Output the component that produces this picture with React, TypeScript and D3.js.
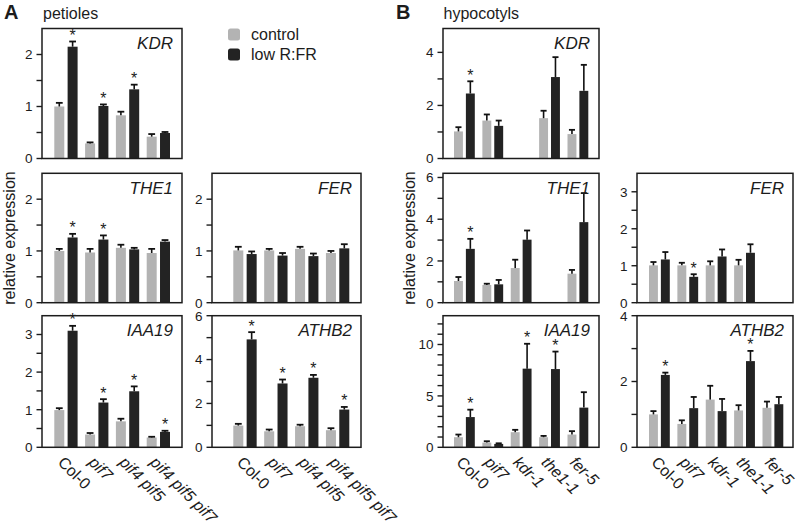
import React from "react";
import * as d3 from "d3";

// ---------- DATA ----------
const groupsA = ["Col-0", "pif7", "pif4 pif5", "pif4 pif5 pif7"];
const groupsB = ["Col-0", "pif7", "kdr-1", "the1-1", "fer-5"];
const series = ["control", "low R:FR"];

// Panel A (petioles)
const kdrA_ctrl = [1.0, 0.29, 0.83, 0.42];
const kdrA_ctrlErr = [0.07, 0.02, 0.07, 0.05];
const kdrA_low = [2.15, 1.01, 1.33, 0.49];
const kdrA_lowErr = [0.1, 0.03, 0.09, 0.02];
const kdrA_star = [1, 1, 1, 0];

const the1A_ctrl = [1.0, 0.97, 1.06, 0.96];
const the1A_ctrlErr = [0.04, 0.07, 0.06, 0.08];
const the1A_low = [1.26, 1.22, 1.03, 1.18];
const the1A_lowErr = [0.07, 0.08, 0.03, 0.03];
const the1A_star = [1, 1, 0, 0];

const ferA_ctrl = [1.01, 1.01, 1.04, 0.96];
const ferA_ctrlErr = [0.07, 0.03, 0.04, 0.04];
const ferA_low = [0.94, 0.91, 0.9, 1.05];
const ferA_lowErr = [0.05, 0.05, 0.05, 0.08];
const ferA_star = [0, 0, 0, 0];

const iaaA_ctrl = [0.99, 0.34, 0.69, 0.26];
const iaaA_ctrlErr = [0.05, 0.04, 0.07, 0.02];
const iaaA_low = [3.1, 1.19, 1.49, 0.41];
const iaaA_lowErr = [0.13, 0.09, 0.13, 0.03];
const iaaA_star = [1, 1, 1, 1];

const athA_ctrl = [0.99, 0.73, 0.96, 0.78];
const athA_ctrlErr = [0.08, 0.08, 0.07, 0.09];
const athA_low = [4.92, 2.91, 3.17, 1.72];
const athA_lowErr = [0.33, 0.18, 0.13, 0.12];
const athA_star = [1, 1, 1, 1];

// Panel B (hypocotyls)
const kdrB_ctrl = [1.02, 1.43, null, 1.52, 0.92];
const kdrB_ctrlErr = [0.16, 0.23, null, 0.28, 0.16];
const kdrB_low = [2.45, 1.23, null, 3.07, 2.55];
const kdrB_lowErr = [0.46, 0.2, null, 0.75, 0.98];
const kdrB_star = [1, 0, 0, 0, 0];

const the1B_ctrl = [1.04, 0.85, 1.66, null, 1.39];
const the1B_ctrlErr = [0.19, 0.06, 0.4, null, 0.18];
const the1B_low = [2.58, 0.88, 3.02, null, 3.86];
const the1B_lowErr = [0.48, 0.21, 0.44, null, 1.39];
const the1B_star = [1, 0, 0, 0, 0];

const ferB_ctrl = [1.01, 1.01, 1.01, 1.01, null];
const ferB_ctrlErr = [0.09, 0.07, 0.11, 0.15, null];
const ferB_low = [1.17, 0.7, 1.25, 1.35, null];
const ferB_lowErr = [0.2, 0.07, 0.19, 0.23, null];
const ferB_star = [0, 1, 0, 0, 0];

const iaaB_ctrl = [0.98, 0.46, 1.47, 0.98, 1.24];
const iaaB_ctrlErr = [0.26, 0.13, 0.23, 0.13, 0.33];
const iaaB_low = [2.94, 0.33, 7.65, 7.61, 3.86];
const iaaB_lowErr = [0.72, 0.06, 2.42, 1.7, 1.5];
const iaaB_star = [1, 0, 1, 1, 0];

const athB_ctrl = [1.0, 0.71, 1.45, 1.12, 1.2];
const athB_ctrlErr = [0.1, 0.11, 0.42, 0.16, 0.19];
const athB_low = [2.2, 1.19, 1.1, 2.62, 1.31];
const athB_lowErr = [0.07, 0.34, 0.37, 0.31, 0.22];
const athB_star = [1, 0, 0, 1, 0];

// Axis ticks
const ticksA_25 = [0, 1, 2];
const minorA_25 = [0.5, 1.5];
const ticksA_iaa = [0, 1, 2, 3];
const minorA_iaa = [0.5, 1.5, 2.5];
const ticksA_ath = [0, 2, 4, 6];
const minorA_ath = [1, 3, 5];
const ticksB_kdr = [0, 2, 4];
const minorB_kdr = [1, 3];
const ticksB_the = [0, 2, 4, 6];
const minorB_the = [1, 3, 5];
const ticksB_fer = [0, 1, 2, 3];
const minorB_fer = [0.5, 1.5, 2.5];
const ticksB_iaa = [0, 5, 10];
const minorB_iaa = [1, 2, 3, 4, 6, 7, 8, 9, 11, 12];
const ticksB_ath = [0, 2, 4];
const minorB_ath = [1, 3];

// ---------- LAYOUT ----------
const W = 798;
const H = 525;
const FONT = "'Liberation Sans', Arial, Helvetica, sans-serif";
const C_CTRL = "#b3b3b3";
const C_LOW = "#232323";
const INK = "#1c1c1c";

const rows = [
  { top: 28.5, bottom: 158.5 },
  { top: 173.3, bottom: 302.7 },
  { top: 315.7, bottom: 447.3 },
];
const cols = {
  AL: { x0: 42, x1: 182, b0: 54.3, b1: 170 },
  AR: { x0: 212, x1: 361, b0: 233.3, b1: 349.3 },
  BL: { x0: 443, x1: 599, b0: 454, b1: 588.3 },
  BR: { x0: 637, x1: 793, b0: 649, b1: 783.3 },
};

type Panel = {
  gene: string;
  groups: string[];
  row: number;
  col: keyof typeof cols;
  max: number;
  ticks: number[];
  minor: number[];
  ctrl: (number | null)[];
  ctrlErr: (number | null)[];
  low: (number | null)[];
  lowErr: (number | null)[];
  star: number[];
  pad: number;
  xlabels?: boolean;
};

const panels: Panel[] = [
  { gene: "KDR", groups: groupsA, row: 0, col: "AL", max: 2.5, ticks: ticksA_25, minor: minorA_25, ctrl: kdrA_ctrl, ctrlErr: kdrA_ctrlErr, low: kdrA_low, lowErr: kdrA_lowErr, star: kdrA_star, pad: 0.2435 },
  { gene: "THE1", groups: groupsA, row: 1, col: "AL", max: 2.5, ticks: ticksA_25, minor: minorA_25, ctrl: the1A_ctrl, ctrlErr: the1A_ctrlErr, low: the1A_low, lowErr: the1A_lowErr, star: the1A_star, pad: 0.2435 },
  { gene: "FER", groups: groupsA, row: 1, col: "AR", max: 2.5, ticks: ticksA_25, minor: minorA_25, ctrl: ferA_ctrl, ctrlErr: ferA_ctrlErr, low: ferA_low, lowErr: ferA_lowErr, star: ferA_star, pad: 0.2435 },
  { gene: "IAA19", groups: groupsA, row: 2, col: "AL", max: 3.5, ticks: ticksA_iaa, minor: minorA_iaa, ctrl: iaaA_ctrl, ctrlErr: iaaA_ctrlErr, low: iaaA_low, lowErr: iaaA_lowErr, star: iaaA_star, pad: 0.2435, xlabels: true },
  { gene: "ATHB2", groups: groupsA, row: 2, col: "AR", max: 6, ticks: ticksA_ath, minor: minorA_ath, ctrl: athA_ctrl, ctrlErr: athA_ctrlErr, low: athA_low, lowErr: athA_lowErr, star: athA_star, pad: 0.2435, xlabels: true },
  { gene: "KDR", groups: groupsB, row: 0, col: "BL", max: 4.9, ticks: ticksB_kdr, minor: minorB_kdr, ctrl: kdrB_ctrl, ctrlErr: kdrB_ctrlErr, low: kdrB_low, lowErr: kdrB_lowErr, star: kdrB_star, pad: 0.267 },
  { gene: "THE1", groups: groupsB, row: 1, col: "BL", max: 6.2, ticks: ticksB_the, minor: minorB_the, ctrl: the1B_ctrl, ctrlErr: the1B_ctrlErr, low: the1B_low, lowErr: the1B_lowErr, star: the1B_star, pad: 0.267 },
  { gene: "FER", groups: groupsB, row: 1, col: "BR", max: 3.5, ticks: ticksB_fer, minor: minorB_fer, ctrl: ferB_ctrl, ctrlErr: ferB_ctrlErr, low: ferB_low, lowErr: ferB_lowErr, star: ferB_star, pad: 0.267 },
  { gene: "IAA19", groups: groupsB, row: 2, col: "BL", max: 12.8, ticks: ticksB_iaa, minor: minorB_iaa, ctrl: iaaB_ctrl, ctrlErr: iaaB_ctrlErr, low: iaaB_low, lowErr: iaaB_lowErr, star: iaaB_star, pad: 0.267, xlabels: true },
  { gene: "ATHB2", groups: groupsB, row: 2, col: "BR", max: 4, ticks: ticksB_ath, minor: minorB_ath, ctrl: athB_ctrl, ctrlErr: athB_ctrlErr, low: athB_low, lowErr: athB_lowErr, star: athB_star, pad: 0.267, xlabels: true },
];

function PanelView({ p }: { p: Panel }) {
  const r = rows[p.row];
  const c = cols[p.col];
  const y = d3.scaleLinear().domain([0, p.max]).range([r.bottom, r.top]);
  const gx = d3.scaleBand<string>().domain(p.groups).range([c.b0, c.b1]).paddingInner(p.pad).paddingOuter(0);
  const ix = d3.scaleBand<string>().domain(series).range([0, gx.bandwidth()]).paddingInner(0.25);
  const bw = ix.bandwidth();
  const capW = bw * 0.68;
  const tickLen = 5.5;

  const bars: React.ReactNode[] = [];
  p.groups.forEach((g, i) => {
    const entries = [
      { s: series[0], v: p.ctrl[i], e: p.ctrlErr[i], fill: C_CTRL, star: 0 },
      { s: series[1], v: p.low[i], e: p.lowErr[i], fill: C_LOW, star: p.star[i] },
    ];
    entries.forEach((en) => {
      if (en.v == null) return;
      const x = (gx(g) as number) + (ix(en.s) as number);
      const top = y(en.v);
      const errTop = y(en.v + (en.e || 0));
      const cx = x + bw / 2;
      bars.push(
        <g key={g + en.s}>
          <rect x={x} y={top} width={bw} height={r.bottom - top} fill={en.fill} />
          <line x1={cx} x2={cx} y1={top} y2={errTop} stroke="#111" strokeWidth={1.6} />
          <line x1={cx - capW / 2} x2={cx + capW / 2} y1={errTop} y2={errTop} stroke="#111" strokeWidth={1.8} />
          {en.star ? (
            <text x={cx} y={errTop - 0.5} textAnchor="middle" fontSize={16} fontFamily={FONT} fill={INK}>
              *
            </text>
          ) : null}
        </g>
      );
    });
  });

  return (
    <g>
      {bars}
      <rect x={c.x0} y={r.top} width={c.x1 - c.x0} height={r.bottom - r.top} fill="none" stroke={INK} strokeWidth={1.5} />
      {p.ticks.map((t) => (
        <g key={"t" + t}>
          <line x1={c.x0 - tickLen} x2={c.x0} y1={y(t)} y2={y(t)} stroke={INK} strokeWidth={1.4} />
          <text x={c.x0 - 9.5} y={y(t)} dy="0.36em" textAnchor="end" fontSize={13.5} fontFamily={FONT} fill={INK}>
            {t}
          </text>
        </g>
      ))}
      {p.minor.map((t) => (
        <line key={"m" + t} x1={c.x0 - tickLen} x2={c.x0} y1={y(t)} y2={y(t)} stroke={INK} strokeWidth={1.4} />
      ))}
      <text x={c.x1 - 9} y={r.top + 20.5} textAnchor="end" fontSize={17} fontStyle="italic" fontFamily={FONT} fill={INK}>
        {p.gene}
      </text>
      {p.xlabels
        ? p.groups.map((g) => {
            const cx = (gx(g) as number) + gx.bandwidth() / 2;
            const ax = cx - 9;
            const ay = r.bottom + 16;
            return (
              <text
                key={"x" + g}
                x={ax}
                y={ay}
                transform={`rotate(45 ${ax} ${ay})`}
                fontSize={16}
                fontStyle={g === "Col-0" ? "normal" : "italic"}
                fontFamily={FONT}
                fill={INK}
              >
                {g}
              </text>
            );
          })
        : null}
    </g>
  );
}

export default function App() {
  React.useEffect(() => {
    document.body.style.margin = "0";
  }, []);
  return (
    <svg
      width={W}
      height={H}
      viewBox={`0 0 ${W} ${H}`}
      style={{ position: "absolute", left: 0, top: 0, background: "#fff", display: "block" }}
    >
      <rect x={0} y={0} width={W} height={H} fill="#fff" />
      <text x={4} y={18.5} fontSize={20} fontWeight="bold" fontFamily={FONT} fill={INK}>
        A
      </text>
      <text x={43} y={19} fontSize={16} fontFamily={FONT} fill={INK}>
        petioles
      </text>
      <text x={396} y={18.5} fontSize={20} fontWeight="bold" fontFamily={FONT} fill={INK}>
        B
      </text>
      <text x={443.5} y={19} fontSize={16} fontFamily={FONT} fill={INK}>
        hypocotyls
      </text>
      {/* legend */}
      {series.map((s, i) => (
        <g key={s}>
          <rect x={228} y={28.5 + i * 20} width={12} height={12} rx={2.5} fill={i === 0 ? C_CTRL : C_LOW} />
          <text x={251} y={40 + i * 20} fontSize={16} fontFamily={FONT} fill={INK}>
            {s}
          </text>
        </g>
      ))}
      {/* y titles */}
      <text x={0} y={0} transform="translate(14.5,238) rotate(-90)" textAnchor="middle" fontSize={16} fontFamily={FONT} fill={INK}>
        relative expression
      </text>
      <text x={0} y={0} transform="translate(414.5,238) rotate(-90)" textAnchor="middle" fontSize={16} fontFamily={FONT} fill={INK}>
        relative expression
      </text>
      {panels.map((p, i) => (
        <PanelView key={i} p={p} />
      ))}
    </svg>
  );
}
